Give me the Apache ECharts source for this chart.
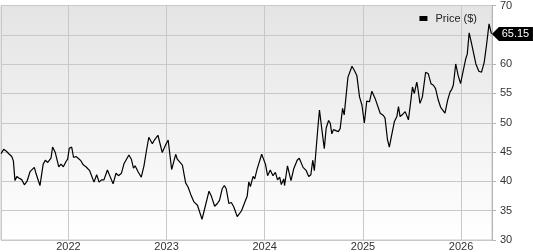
<!DOCTYPE html>
<html><head><meta charset="utf-8">
<script src="https://cdn.jsdelivr.net/npm/echarts@6/dist/echarts.min.js"></script>
<style>html,body{margin:0;padding:0;background:#fff}#c{width:533px;height:252px}</style>
</head><body><div id="c"></div>
<script>
const dates = ['2021-04-25','2021-05-05','2021-05-14','2021-05-20','2021-05-26','2021-06-04','2021-06-10','2021-06-16','2021-06-23','2021-07-02','2021-07-11','2021-07-21','2021-07-31','2021-08-11','2021-08-17','2021-08-27','2021-09-02','2021-09-17','2021-09-29','2021-10-07','2021-10-16','2021-10-28','2021-11-03','2021-11-13','2021-11-26','2021-12-04','2021-12-13','2021-12-23','2021-12-29',
'2022-01-04','2022-01-13','2022-01-20','2022-01-29','2022-02-06','2022-02-16','2022-02-25','2022-03-07','2022-03-13','2022-03-21','2022-03-28','2022-04-06','2022-04-16','2022-04-25','2022-05-04','2022-05-13','2022-05-26','2022-06-05','2022-06-16','2022-06-27','2022-07-06','2022-07-17','2022-07-27','2022-08-02','2022-08-14','2022-08-23','2022-08-31','2022-09-06','2022-09-17','2022-09-29','2022-10-09','2022-10-18','2022-10-27','2022-11-09','2022-11-18','2022-11-30','2022-12-16','2022-12-28',
'2023-01-07','2023-01-20','2023-01-26','2023-02-04','2023-02-10','2023-02-16','2023-03-01','2023-03-13','2023-03-22','2023-04-01','2023-04-13','2023-04-26','2023-05-01','2023-05-13','2023-05-20','2023-05-26','2023-06-08','2023-06-17','2023-06-29','2023-07-09','2023-07-17','2023-07-27','2023-08-04','2023-08-11','2023-08-21','2023-08-30','2023-09-08','2023-09-21','2023-09-30','2023-10-07','2023-10-13','2023-10-22','2023-10-28','2023-11-03','2023-11-09','2023-11-19','2023-11-25','2023-12-04','2023-12-21',
'2024-01-04','2024-01-12','2024-01-22','2024-02-01','2024-02-10','2024-02-18','2024-02-26','2024-03-03','2024-03-12','2024-03-15','2024-03-26','2024-04-08','2024-04-18','2024-05-01','2024-05-09','2024-05-16','2024-05-23','2024-06-04','2024-06-13','2024-06-21','2024-06-28','2024-07-04','2024-07-11','2024-07-16','2024-07-23','2024-08-01','2024-08-10','2024-08-17','2024-08-26','2024-09-01','2024-09-07','2024-09-13','2024-09-19','2024-10-01','2024-10-08','2024-10-17','2024-10-23','2024-10-29','2024-11-06','2024-11-21','2024-11-30','2024-12-09','2024-12-19','2024-12-28',
'2025-01-06','2025-01-15','2025-01-25','2025-02-03','2025-02-09','2025-02-15','2025-02-21','2025-03-06','2025-03-18','2025-03-24','2025-04-02','2025-04-09','2025-04-18','2025-04-28','2025-05-07','2025-05-13','2025-05-19','2025-05-29','2025-06-07','2025-06-19','2025-06-29','2025-07-04','2025-07-11','2025-07-20','2025-07-23','2025-08-01','2025-08-10','2025-08-22','2025-09-01','2025-09-11','2025-09-20','2025-09-28','2025-10-08','2025-10-17','2025-10-23','2025-11-02','2025-11-12','2025-11-21','2025-11-27','2025-12-03','2025-12-12','2025-12-21','2025-12-30',
'2026-01-09','2026-01-18','2026-01-24','2026-01-31','2026-02-09','2026-02-15','2026-02-25','2026-03-08','2026-03-18','2026-03-28','2026-04-06','2026-04-15','2026-04-24'];
const prices = [44.74,45.46,45.18,45.29,44.62,44.24,43.50,40.13,40.81,40.54,40.30,39.41,40.03,41.65,41.43,42.39,41.38,39.29,42.94,43.61,43.23,43.95,45.85,44.91,42.49,42.94,42.49,43.39,43.78,
45.63,45.85,44.07,44.24,43.95,43.53,42.82,42.49,42.39,41.82,42.10,39.87,41.14,39.87,40.25,40.25,41.93,40.81,39.58,41.38,40.97,41.38,43.06,42.82,44.50,43.78,42.27,42.66,41.65,40.71,42.66,45.18,47.53,46.42,47.14,47.87,44.91,46.18,
47.06,42.02,41.93,44.62,43.78,44.07,42.77,39.75,39.03,37.78,36.50,35.93,35.76,33.53,34.82,34.92,38.32,37.45,35.76,36.22,36.77,38.74,39.29,38.74,36.22,36.39,35.66,33.98,34.54,34.99,34.66,36.77,37.45,39.92,39.13,40.84,40.42,42.10,44.62,
42.94,40.97,41.93,40.97,41.55,40.25,40.71,39.46,40.42,39.29,42.66,40.13,42.10,43.61,43.95,43.78,42.39,41.82,40.84,41.14,43.61,41.82,45.75,48.54,52.18,48.82,45.58,49.11,50.39,49.95,48.10,48.82,49.16,48.49,48.99,52.47,51.34,51.63,57.78,59.63,58.91,58.07,54.42,53.03,
49.95,53.70,53.58,55.38,55.55,54.15,54.42,51.63,51.23,50.79,47.14,45.85,47.98,50.22,51.06,52.74,51.06,51.46,51.90,50.50,54.15,56.10,54.99,56.94,56.22,53.31,54.42,58.62,58.35,56.67,56.39,55.83,53.87,52.64,52.86,51.63,53.87,55.26,55.66,56.39,60.03,58.07,56.67,
58.91,60.87,61.71,65.34,63.50,63.39,60.03,58.79,58.62,60.30,63.39,66.86,65.15];
const yTicks = [30,35,40,45,50,55,60,65,70];
const seriesName = 'Price ($)';

const chart = echarts.init(document.getElementById('c'), null, {renderer:'canvas'});
const data = dates.map((d,i)=>[d, prices[i]]);
const last = data[data.length-1];
const FONT = '"Liberation Sans", Arial, sans-serif';
chart.setOption({
  animation:false,
  textStyle:{fontFamily:FONT},
  grid:{left:1,right:41,top:4,bottom:10,show:true,borderColor:'#c8c8c8',borderWidth:1,
    backgroundColor:new echarts.graphic.LinearGradient(0,0,0,1,[{offset:0,color:'#e4e4e4'},{offset:1,color:'#ffffff'}])},
  legend:{show:true,right:51,top:8,itemWidth:8,itemHeight:5,icon:'rect',itemGap:0,
    textStyle:{fontSize:11,color:'#222',fontFamily:FONT,padding:[0,0,0,3]},data:[seriesName]},
  xAxis:{type:'time',min:'2021-04-25',max:'2026-04-26',
    minInterval:365*24*3600*1000,maxInterval:366*24*3600*1000,
    axisLine:{show:false},axisTick:{show:false},
    axisLabel:{formatter:'{yyyy}',fontSize:11,color:'#333',margin:1,fontFamily:FONT,hideOverlap:false},
    splitLine:{show:true,lineStyle:{color:'#c8c8c8',width:1}}},
  yAxis:{type:'value',position:'right',min:yTicks[0],max:yTicks[yTicks.length-1],interval:5,
    axisLine:{show:true,lineStyle:{color:'#b4b4b4'}},
    axisTick:{show:true,length:4,lineStyle:{color:'#b4b4b4'}},
    axisLabel:{fontSize:11,color:'#333',margin:8,fontFamily:FONT},
    splitLine:{show:true,lineStyle:{color:'#c8c8c8',width:1}}},
  series:[{name:seriesName,type:'line',data:data,showSymbol:false,symbol:'none',
    lineStyle:{color:'#000',width:1.2},itemStyle:{color:'#000'},
    markPoint:{symbol:'path://M0,7 L7,0 L41,0 L41,14 L7,14 Z',symbolSize:[41,14],symbolOffset:[21,0],
      itemStyle:{color:'#000'},
      label:{show:true,color:'#fff',fontSize:11,fontFamily:FONT,offset:[3,0],formatter:p=>p.value.toFixed(2)},
      data:[{coord:last,value:last[1]}]}}]
});
</script></body></html>
